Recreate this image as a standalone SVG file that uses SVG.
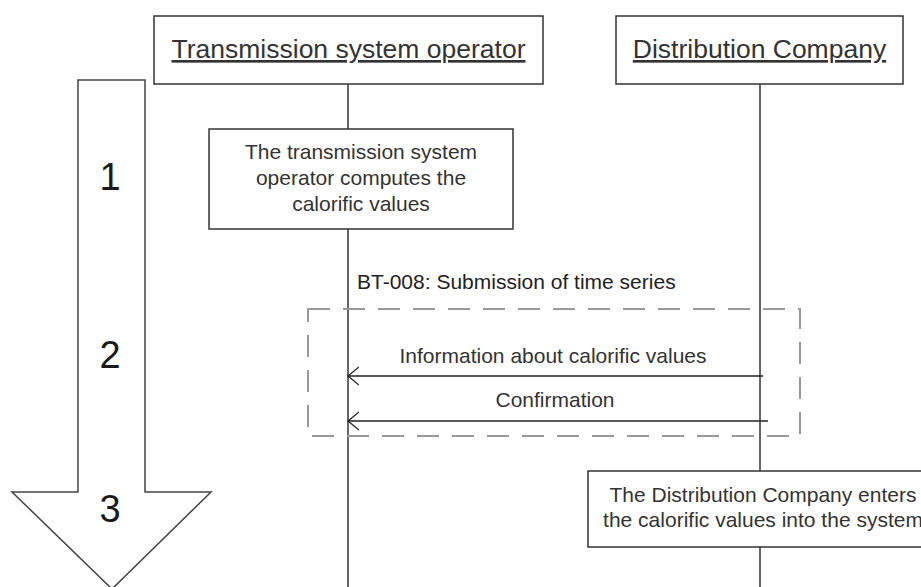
<svg xmlns="http://www.w3.org/2000/svg" width="921" height="587" viewBox="0 0 921 587">
  <style>
    text { font-family: "Liberation Sans", Arial, sans-serif; fill: #333; }
    .hdr { font-size: 26.5px; text-decoration: underline; text-anchor: middle; }
    .box { fill: #fff; stroke: #333; stroke-width: 1.5; }
    .txt { font-size: 21px; text-anchor: middle; }
    .num { font-size: 38px; text-anchor: middle; fill: #1a1a1a; }
    .life { stroke: #333; stroke-width: 1.5; fill: none; }
    .msg { stroke: #222; stroke-width: 1.5; fill: none; }
    .frame { fill: none; stroke: #999; stroke-width: 2; stroke-dasharray: 22 13; }
  </style>
  <defs>
    <marker id="open" viewBox="0 0 12 20" refX="11" refY="10" markerWidth="12" markerHeight="20" markerUnits="userSpaceOnUse" orient="auto">
      <path d="M0,1 L11,10 L0,19" fill="none" stroke="#222" stroke-width="1.3"/>
    </marker>
  </defs>
  <rect width="921" height="587" fill="#fff"/>

  <g id="phase-arrow">
    <path d="M78,80 L145,80 L145,492 L211,492 L112,589 L12,492 L78,492 Z" fill="#fff" stroke="#444" stroke-width="1.5"/>
    <text class="num" x="110" y="190">1</text>
    <text class="num" x="110" y="368">2</text>
    <text class="num" x="110" y="522">3</text>
  </g>

  <g id="connectors">
    <line class="life" x1="348" y1="84" x2="348" y2="129"/>
    <line class="life" x1="348" y1="229" x2="348" y2="587"/>
    <line class="life" x1="760" y1="84" x2="760" y2="471"/>
    <line class="life" x1="760" y1="547" x2="760" y2="587"/>
    <line class="msg" x1="763" y1="376" x2="348" y2="376" marker-end="url(#open)"/>
    <text class="txt" x="553" y="363">Information about calorific values</text>
    <line class="msg" x1="768" y1="421" x2="348" y2="421" marker-end="url(#open)"/>
    <text class="txt" x="555" y="407">Confirmation</text>
  </g>

  <g id="bt-008">
    <rect class="frame" x="308" y="309" width="492" height="127"/>
    <text x="357" y="289" style="font-size:21px; fill:#222">BT-008: Submission of time series</text>
  </g>

  <g id="tso">
    <rect class="box" x="154" y="16" width="389" height="68"/>
    <text class="hdr" x="348.5" y="58">Transmission system operator</text>
  </g>

  <g id="dc">
    <rect class="box" x="616" y="16" width="287" height="68"/>
    <text class="hdr" x="759.5" y="58">Distribution Company</text>
  </g>

  <g id="step1">
    <rect class="box" x="209" y="129" width="304" height="100"/>
    <text class="txt" x="361" y="159">The transmission system</text>
    <text class="txt" x="361" y="185">operator computes the</text>
    <text class="txt" x="361" y="211">calorific values</text>
  </g>

  <g id="step3">
    <rect class="box" x="588" y="471" width="350" height="76"/>
    <text class="txt" x="763" y="502">The Distribution Company enters</text>
    <text class="txt" x="763" y="527">the calorific values into the system</text>
  </g>
</svg>
